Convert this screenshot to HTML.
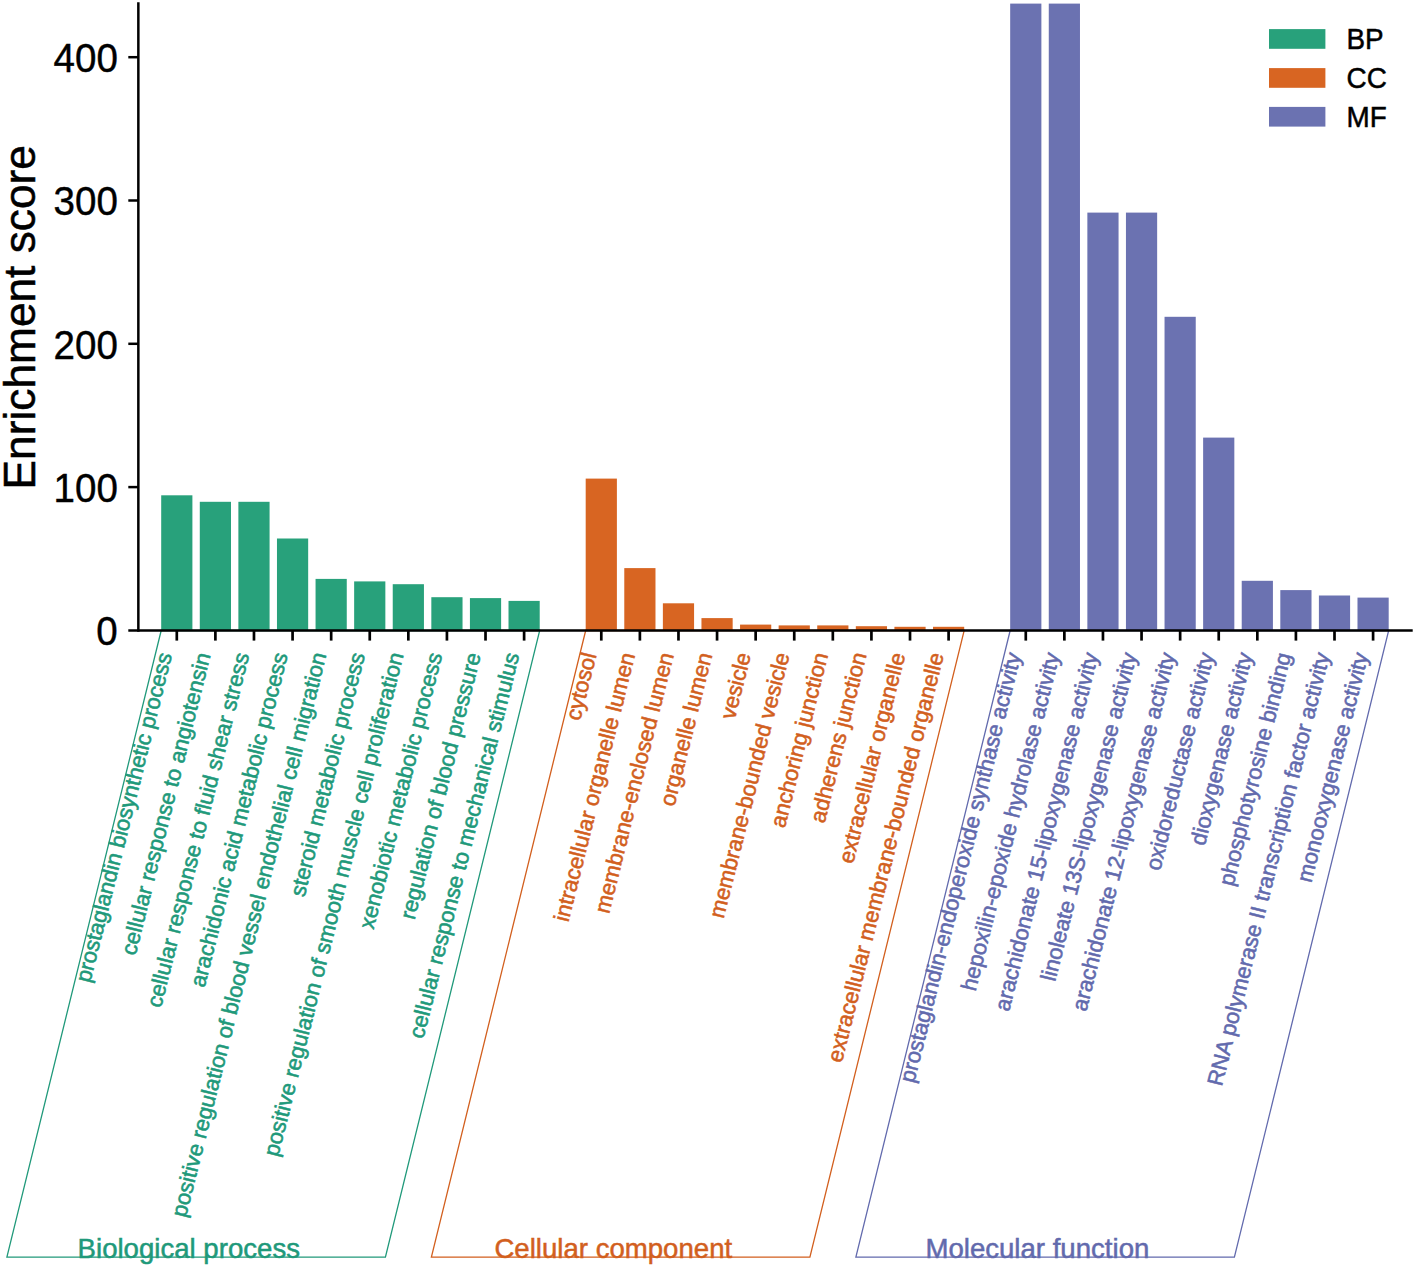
<!DOCTYPE html><html><head><meta charset="utf-8"><style>html,body{margin:0;padding:0;background:#fff;width:1416px;height:1268px;overflow:hidden}svg{display:block}text{font-family:"Liberation Sans",sans-serif}</style></head><body>
<svg width="1416" height="1268" viewBox="0 0 1416 1268">
<rect x="161.20" y="495.30" width="31.20" height="135.20" fill="#28a17b"/>
<rect x="199.79" y="501.80" width="31.20" height="128.70" fill="#28a17b"/>
<rect x="238.38" y="501.80" width="31.20" height="128.70" fill="#28a17b"/>
<rect x="276.97" y="538.50" width="31.20" height="92.00" fill="#28a17b"/>
<rect x="315.56" y="578.90" width="31.20" height="51.60" fill="#28a17b"/>
<rect x="354.15" y="581.40" width="31.20" height="49.10" fill="#28a17b"/>
<rect x="392.74" y="584.20" width="31.20" height="46.30" fill="#28a17b"/>
<rect x="431.33" y="597.20" width="31.20" height="33.30" fill="#28a17b"/>
<rect x="469.92" y="598.10" width="31.20" height="32.40" fill="#28a17b"/>
<rect x="508.51" y="600.90" width="31.20" height="29.60" fill="#28a17b"/>
<rect x="585.69" y="478.60" width="31.20" height="151.90" fill="#d86522"/>
<rect x="624.28" y="568.10" width="31.20" height="62.40" fill="#d86522"/>
<rect x="662.87" y="603.30" width="31.20" height="27.20" fill="#d86522"/>
<rect x="701.46" y="618.10" width="31.20" height="12.40" fill="#d86522"/>
<rect x="740.05" y="624.60" width="31.20" height="5.90" fill="#d86522"/>
<rect x="778.64" y="625.40" width="31.20" height="5.10" fill="#d86522"/>
<rect x="817.23" y="625.40" width="31.20" height="5.10" fill="#d86522"/>
<rect x="855.82" y="626.20" width="31.20" height="4.30" fill="#d86522"/>
<rect x="894.41" y="626.80" width="31.20" height="3.70" fill="#d86522"/>
<rect x="933.00" y="626.80" width="31.20" height="3.70" fill="#d86522"/>
<rect x="1010.18" y="3.60" width="31.20" height="626.90" fill="#6b72b1"/>
<rect x="1048.77" y="3.60" width="31.20" height="626.90" fill="#6b72b1"/>
<rect x="1087.36" y="212.60" width="31.20" height="417.90" fill="#6b72b1"/>
<rect x="1125.95" y="212.60" width="31.20" height="417.90" fill="#6b72b1"/>
<rect x="1164.54" y="316.80" width="31.20" height="313.70" fill="#6b72b1"/>
<rect x="1203.13" y="437.60" width="31.20" height="192.90" fill="#6b72b1"/>
<rect x="1241.72" y="580.80" width="31.20" height="49.70" fill="#6b72b1"/>
<rect x="1280.31" y="590.10" width="31.20" height="40.40" fill="#6b72b1"/>
<rect x="1318.90" y="595.50" width="31.20" height="35.00" fill="#6b72b1"/>
<rect x="1357.49" y="597.60" width="31.20" height="32.90" fill="#6b72b1"/>
<polygon points="161.20,630.50 539.71,630.50 385.41,1257.10 6.90,1257.10" fill="none" stroke="#20997a" stroke-width="1.3"/>
<text x="188.80" y="1258.1" font-size="27.6" fill="#20997a" stroke="#20997a" stroke-width="0.5" text-anchor="middle">Biological process</text>
<text transform="translate(172.20,654.70) rotate(-75.97)" font-size="22.10" fill="#20997a" stroke="#20997a" stroke-width="0.55" text-anchor="end">prostaglandin biosynthetic process</text>
<text transform="translate(210.79,654.70) rotate(-75.97)" font-size="22.10" fill="#20997a" stroke="#20997a" stroke-width="0.55" text-anchor="end">cellular response to angiotensin</text>
<text transform="translate(249.38,654.70) rotate(-75.97)" font-size="22.10" fill="#20997a" stroke="#20997a" stroke-width="0.55" text-anchor="end">cellular response to fluid shear stress</text>
<text transform="translate(287.97,654.70) rotate(-75.97)" font-size="22.10" fill="#20997a" stroke="#20997a" stroke-width="0.55" text-anchor="end">arachidonic acid metabolic process</text>
<text transform="translate(326.56,654.70) rotate(-75.97)" font-size="22.10" fill="#20997a" stroke="#20997a" stroke-width="0.55" text-anchor="end">positive regulation of blood vessel endothelial cell migration</text>
<text transform="translate(365.15,654.70) rotate(-75.97)" font-size="22.10" fill="#20997a" stroke="#20997a" stroke-width="0.55" text-anchor="end">steroid metabolic process</text>
<text transform="translate(403.74,654.70) rotate(-75.97)" font-size="22.10" fill="#20997a" stroke="#20997a" stroke-width="0.55" text-anchor="end">positive regulation of smooth muscle cell proliferation</text>
<text transform="translate(442.33,654.70) rotate(-75.97)" font-size="22.10" fill="#20997a" stroke="#20997a" stroke-width="0.55" text-anchor="end">xenobiotic metabolic process</text>
<text transform="translate(480.92,654.70) rotate(-75.97)" font-size="22.10" fill="#20997a" stroke="#20997a" stroke-width="0.55" text-anchor="end">regulation of blood pressure</text>
<text transform="translate(519.51,654.70) rotate(-75.97)" font-size="22.10" fill="#20997a" stroke="#20997a" stroke-width="0.55" text-anchor="end">cellular response to mechanical stimulus</text>
<polygon points="585.69,630.50 964.20,630.50 809.90,1257.10 431.39,1257.10" fill="none" stroke="#d25f1e" stroke-width="1.3"/>
<text x="613.30" y="1258.1" font-size="27.6" fill="#d25f1e" stroke="#d25f1e" stroke-width="0.5" text-anchor="middle">Cellular component</text>
<text transform="translate(596.69,654.70) rotate(-75.97)" font-size="22.10" fill="#d25f1e" stroke="#d25f1e" stroke-width="0.55" text-anchor="end">cytosol</text>
<text transform="translate(635.28,654.70) rotate(-75.97)" font-size="22.10" fill="#d25f1e" stroke="#d25f1e" stroke-width="0.55" text-anchor="end">intracellular organelle lumen</text>
<text transform="translate(673.87,654.70) rotate(-75.97)" font-size="22.10" fill="#d25f1e" stroke="#d25f1e" stroke-width="0.55" text-anchor="end">membrane-enclosed lumen</text>
<text transform="translate(712.46,654.70) rotate(-75.97)" font-size="22.10" fill="#d25f1e" stroke="#d25f1e" stroke-width="0.55" text-anchor="end">organelle lumen</text>
<text transform="translate(751.05,654.70) rotate(-75.97)" font-size="22.10" fill="#d25f1e" stroke="#d25f1e" stroke-width="0.55" text-anchor="end">vesicle</text>
<text transform="translate(789.64,654.70) rotate(-75.97)" font-size="22.10" fill="#d25f1e" stroke="#d25f1e" stroke-width="0.55" text-anchor="end">membrane-bounded vesicle</text>
<text transform="translate(828.23,654.70) rotate(-75.97)" font-size="22.10" fill="#d25f1e" stroke="#d25f1e" stroke-width="0.55" text-anchor="end">anchoring junction</text>
<text transform="translate(866.82,654.70) rotate(-75.97)" font-size="22.10" fill="#d25f1e" stroke="#d25f1e" stroke-width="0.55" text-anchor="end">adherens junction</text>
<text transform="translate(905.41,654.70) rotate(-75.97)" font-size="22.10" fill="#d25f1e" stroke="#d25f1e" stroke-width="0.55" text-anchor="end">extracellular organelle</text>
<text transform="translate(944.00,654.70) rotate(-75.97)" font-size="22.10" fill="#d25f1e" stroke="#d25f1e" stroke-width="0.55" text-anchor="end">extracellular membrane-bounded organelle</text>
<polygon points="1010.18,630.50 1388.69,630.50 1234.39,1257.10 855.88,1257.10" fill="none" stroke="#626aad" stroke-width="1.3"/>
<text x="1037.40" y="1258.1" font-size="27.6" fill="#626aad" stroke="#626aad" stroke-width="0.5" text-anchor="middle">Molecular function</text>
<text transform="translate(1021.18,654.70) rotate(-75.97)" font-size="22.10" fill="#626aad" stroke="#626aad" stroke-width="0.55" text-anchor="end">prostaglandin-endoperoxide synthase activity</text>
<text transform="translate(1059.77,654.70) rotate(-75.97)" font-size="22.10" fill="#626aad" stroke="#626aad" stroke-width="0.55" text-anchor="end">hepoxilin-epoxide hydrolase activity</text>
<text transform="translate(1098.36,654.70) rotate(-75.97)" font-size="22.10" fill="#626aad" stroke="#626aad" stroke-width="0.55" text-anchor="end">arachidonate 15-lipoxygenase activity</text>
<text transform="translate(1136.95,654.70) rotate(-75.97)" font-size="22.10" fill="#626aad" stroke="#626aad" stroke-width="0.55" text-anchor="end">linoleate 13S-lipoxygenase activity</text>
<text transform="translate(1175.54,654.70) rotate(-75.97)" font-size="22.10" fill="#626aad" stroke="#626aad" stroke-width="0.55" text-anchor="end">arachidonate 12-lipoxygenase activity</text>
<text transform="translate(1214.13,654.70) rotate(-75.97)" font-size="22.10" fill="#626aad" stroke="#626aad" stroke-width="0.55" text-anchor="end">oxidoreductase activity</text>
<text transform="translate(1252.72,654.70) rotate(-75.97)" font-size="22.10" fill="#626aad" stroke="#626aad" stroke-width="0.55" text-anchor="end">dioxygenase activity</text>
<text transform="translate(1291.31,654.70) rotate(-75.97)" font-size="22.10" fill="#626aad" stroke="#626aad" stroke-width="0.55" text-anchor="end">phosphotyrosine binding</text>
<text transform="translate(1329.90,654.70) rotate(-75.97)" font-size="22.10" fill="#626aad" stroke="#626aad" stroke-width="0.55" text-anchor="end">RNA polymerase II transcription factor activity</text>
<text transform="translate(1368.49,654.70) rotate(-75.97)" font-size="22.10" fill="#626aad" stroke="#626aad" stroke-width="0.55" text-anchor="end">monooxygenase activity</text>
<line x1="138.35" y1="2.2" x2="138.35" y2="631.75" stroke="#000" stroke-width="2.5"/>
<line x1="128.3" y1="630.50" x2="1412.7" y2="630.50" stroke="#000" stroke-width="2.5"/>
<line x1="128.3" y1="57.20" x2="138" y2="57.20" stroke="#000" stroke-width="2.5"/>
<line x1="128.3" y1="200.50" x2="138" y2="200.50" stroke="#000" stroke-width="2.5"/>
<line x1="128.3" y1="343.80" x2="138" y2="343.80" stroke="#000" stroke-width="2.5"/>
<line x1="128.3" y1="487.10" x2="138" y2="487.10" stroke="#000" stroke-width="2.5"/>
<text transform="translate(117.8,71.95) scale(0.935,1)" font-size="41.2" text-anchor="end" fill="#000" stroke="#000" stroke-width="0.45">400</text>
<text transform="translate(117.8,215.25) scale(0.935,1)" font-size="41.2" text-anchor="end" fill="#000" stroke="#000" stroke-width="0.45">300</text>
<text transform="translate(117.8,358.55) scale(0.935,1)" font-size="41.2" text-anchor="end" fill="#000" stroke="#000" stroke-width="0.45">200</text>
<text transform="translate(117.8,501.85) scale(0.935,1)" font-size="41.2" text-anchor="end" fill="#000" stroke="#000" stroke-width="0.45">100</text>
<text transform="translate(117.8,645.25) scale(0.935,1)" font-size="41.2" text-anchor="end" fill="#000" stroke="#000" stroke-width="0.45">0</text>
<line x1="176.80" y1="630.50" x2="176.80" y2="640.6" stroke="#000" stroke-width="2.7"/>
<line x1="215.39" y1="630.50" x2="215.39" y2="640.6" stroke="#000" stroke-width="2.7"/>
<line x1="253.98" y1="630.50" x2="253.98" y2="640.6" stroke="#000" stroke-width="2.7"/>
<line x1="292.57" y1="630.50" x2="292.57" y2="640.6" stroke="#000" stroke-width="2.7"/>
<line x1="331.16" y1="630.50" x2="331.16" y2="640.6" stroke="#000" stroke-width="2.7"/>
<line x1="369.75" y1="630.50" x2="369.75" y2="640.6" stroke="#000" stroke-width="2.7"/>
<line x1="408.34" y1="630.50" x2="408.34" y2="640.6" stroke="#000" stroke-width="2.7"/>
<line x1="446.93" y1="630.50" x2="446.93" y2="640.6" stroke="#000" stroke-width="2.7"/>
<line x1="485.52" y1="630.50" x2="485.52" y2="640.6" stroke="#000" stroke-width="2.7"/>
<line x1="524.11" y1="630.50" x2="524.11" y2="640.6" stroke="#000" stroke-width="2.7"/>
<line x1="601.29" y1="630.50" x2="601.29" y2="640.6" stroke="#000" stroke-width="2.7"/>
<line x1="639.88" y1="630.50" x2="639.88" y2="640.6" stroke="#000" stroke-width="2.7"/>
<line x1="678.47" y1="630.50" x2="678.47" y2="640.6" stroke="#000" stroke-width="2.7"/>
<line x1="717.06" y1="630.50" x2="717.06" y2="640.6" stroke="#000" stroke-width="2.7"/>
<line x1="755.65" y1="630.50" x2="755.65" y2="640.6" stroke="#000" stroke-width="2.7"/>
<line x1="794.24" y1="630.50" x2="794.24" y2="640.6" stroke="#000" stroke-width="2.7"/>
<line x1="832.83" y1="630.50" x2="832.83" y2="640.6" stroke="#000" stroke-width="2.7"/>
<line x1="871.42" y1="630.50" x2="871.42" y2="640.6" stroke="#000" stroke-width="2.7"/>
<line x1="910.01" y1="630.50" x2="910.01" y2="640.6" stroke="#000" stroke-width="2.7"/>
<line x1="948.60" y1="630.50" x2="948.60" y2="640.6" stroke="#000" stroke-width="2.7"/>
<line x1="1025.78" y1="630.50" x2="1025.78" y2="640.6" stroke="#000" stroke-width="2.7"/>
<line x1="1064.37" y1="630.50" x2="1064.37" y2="640.6" stroke="#000" stroke-width="2.7"/>
<line x1="1102.96" y1="630.50" x2="1102.96" y2="640.6" stroke="#000" stroke-width="2.7"/>
<line x1="1141.55" y1="630.50" x2="1141.55" y2="640.6" stroke="#000" stroke-width="2.7"/>
<line x1="1180.14" y1="630.50" x2="1180.14" y2="640.6" stroke="#000" stroke-width="2.7"/>
<line x1="1218.73" y1="630.50" x2="1218.73" y2="640.6" stroke="#000" stroke-width="2.7"/>
<line x1="1257.32" y1="630.50" x2="1257.32" y2="640.6" stroke="#000" stroke-width="2.7"/>
<line x1="1295.91" y1="630.50" x2="1295.91" y2="640.6" stroke="#000" stroke-width="2.7"/>
<line x1="1334.50" y1="630.50" x2="1334.50" y2="640.6" stroke="#000" stroke-width="2.7"/>
<line x1="1373.09" y1="630.50" x2="1373.09" y2="640.6" stroke="#000" stroke-width="2.7"/>
<text transform="translate(34.9,489.4) rotate(-90)" font-size="44.25" fill="#000" stroke="#000" stroke-width="0.5">Enrichment score</text>
<rect x="1269" y="29.10" width="56.4" height="19.7" fill="#28a17b"/>
<text transform="translate(1346.5,48.70) scale(0.955,1)" font-size="29.2" fill="#000" stroke="#000" stroke-width="0.5">BP</text>
<rect x="1269" y="68.10" width="56.4" height="19.7" fill="#d86522"/>
<text transform="translate(1346.5,87.70) scale(0.955,1)" font-size="29.2" fill="#000" stroke="#000" stroke-width="0.5">CC</text>
<rect x="1269" y="106.90" width="56.4" height="19.7" fill="#6b72b1"/>
<text transform="translate(1346.5,126.50) scale(0.955,1)" font-size="29.2" fill="#000" stroke="#000" stroke-width="0.5">MF</text>
</svg></body></html>
